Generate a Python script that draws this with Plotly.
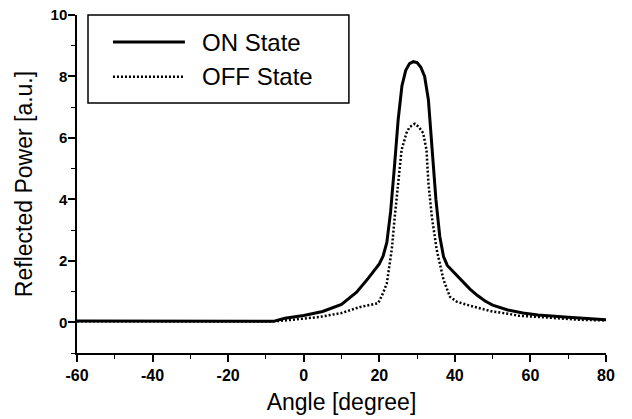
import plotly.graph_objects as go

# ---- data ----
on_angle = [-60, -40, -20, -8, -5, 0, 5, 10, 14, 17, 20, 21, 22, 23, 24, 25, 26, 27, 28, 29, 30, 31, 32, 33, 34, 35, 36, 37, 38, 40, 42, 44, 46, 48, 50, 54, 58, 62, 70, 80]
on_power = [0.04, 0.03, 0.03, 0.03, 0.13, 0.22, 0.35, 0.58, 0.98, 1.42, 1.90, 2.15, 2.60, 3.60, 5.05, 6.60, 7.70, 8.20, 8.42, 8.48, 8.45, 8.30, 8.00, 7.24, 5.60, 3.98, 2.80, 2.14, 1.85, 1.60, 1.33, 1.08, 0.87, 0.69, 0.56, 0.40, 0.30, 0.24, 0.16, 0.08]

off_angle = [-60, -40, -20, -8, -4, 0, 4, 10, 15, 19.7, 21, 22, 23.3, 24.1, 25, 25.9, 27.2, 28, 29.4, 30.5, 31.6, 32.5, 33, 33.9, 35.2, 37, 38.7, 40.5, 44, 47, 50, 54, 57, 65, 73, 80]
off_power = [0.03, 0.03, 0.03, 0.03, 0.07, 0.11, 0.17, 0.30, 0.50, 0.62, 0.95, 1.27, 2.36, 3.44, 4.53, 5.61, 6.16, 6.35, 6.46, 6.35, 6.16, 5.61, 4.53, 3.44, 2.36, 1.38, 0.83, 0.67, 0.54, 0.44, 0.35, 0.28, 0.21, 0.15, 0.08, 0.06]

series_names = ["ON State", "OFF State"]
x_ticks = [-60, -40, -20, 0, 20, 40, 60, 80]
x_tick_labels = ["-60", "-40", "-20", "0", "20", "40", "60", "80"]
y_ticks = [0, 2, 4, 6, 8, 10]
y_tick_labels = ["0", "2", "4", "6", "8", "10"]

FONT = "Liberation Sans"

fig = go.Figure()
fig.add_trace(go.Scatter(x=on_angle, y=on_power, mode="lines", name=series_names[0],
                         line=dict(color="black", width=3), showlegend=False))
fig.add_trace(go.Scatter(x=off_angle, y=off_power, mode="lines", name=series_names[1],
                         line=dict(color="black", width=2.5, dash="2px,2px"), showlegend=False))

# legend drawn as box + sample lines + text
fig.add_shape(type="rect", xref="paper", yref="paper", x0=0.0208, x1=0.514, y0=0.740, y1=1.0,
              line=dict(color="black", width=1.5), fillcolor="white", layer="above")
fig.add_shape(type="line", xref="paper", yref="paper", x0=0.068, x1=0.204, y0=0.920, y1=0.920,
              line=dict(color="black", width=3))
fig.add_shape(type="line", xref="paper", yref="paper", x0=0.068, x1=0.204, y0=0.817, y1=0.817,
              line=dict(color="black", width=2.5, dash="2px,2px"))
for name, yy in zip(series_names, [0.920, 0.817]):
    fig.add_annotation(xref="paper", yref="paper", x=0.2325, y=yy, text=name, showarrow=False,
                       xanchor="left", yanchor="middle", font=dict(family=FONT, size=24, color="black"))

fig.update_layout(
    width=632, height=419,
    margin=dict(l=77, r=26, t=15, b=66),
    paper_bgcolor="white", plot_bgcolor="white",
    font=dict(family=FONT, color="black"),
)
fig.update_xaxes(
    range=[-60, 80], tickvals=x_ticks, ticktext=x_tick_labels, showgrid=False, zeroline=False,
    showline=True, linecolor="black", linewidth=1.5, automargin=False,
    ticks="outside", ticklen=7, tickwidth=1.5, tickcolor="black", ticklabelstandoff=0,
    minor=dict(dtick=10, tick0=0, ticks="outside", ticklen=4, tickwidth=1.2, tickcolor="black", showgrid=False),
    tickfont=dict(family=FONT, size=16, weight="bold"),
    title=dict(text="Angle [degree]", font=dict(family=FONT, size=23), standoff=11),
)
fig.update_yaxes(
    range=[-1, 10], tickvals=y_ticks, ticktext=y_tick_labels, showgrid=False, zeroline=False,
    showline=True, linecolor="black", linewidth=1.5, automargin=False,
    ticks="outside", ticklen=7, tickwidth=1.5, tickcolor="black", ticklabelstandoff=-2,
    minor=dict(dtick=1, tick0=0, ticks="outside", ticklen=4, tickwidth=1.2, tickcolor="black", showgrid=False),
    tickfont=dict(family=FONT, size=15, weight="bold"),
    title=dict(text="Reflected Power [a.u.]", font=dict(family=FONT, size=23), standoff=12),
)

fig.write_html("out.html", config={"displayModeBar": False},
               post_script="document.body.style.margin='0';")
